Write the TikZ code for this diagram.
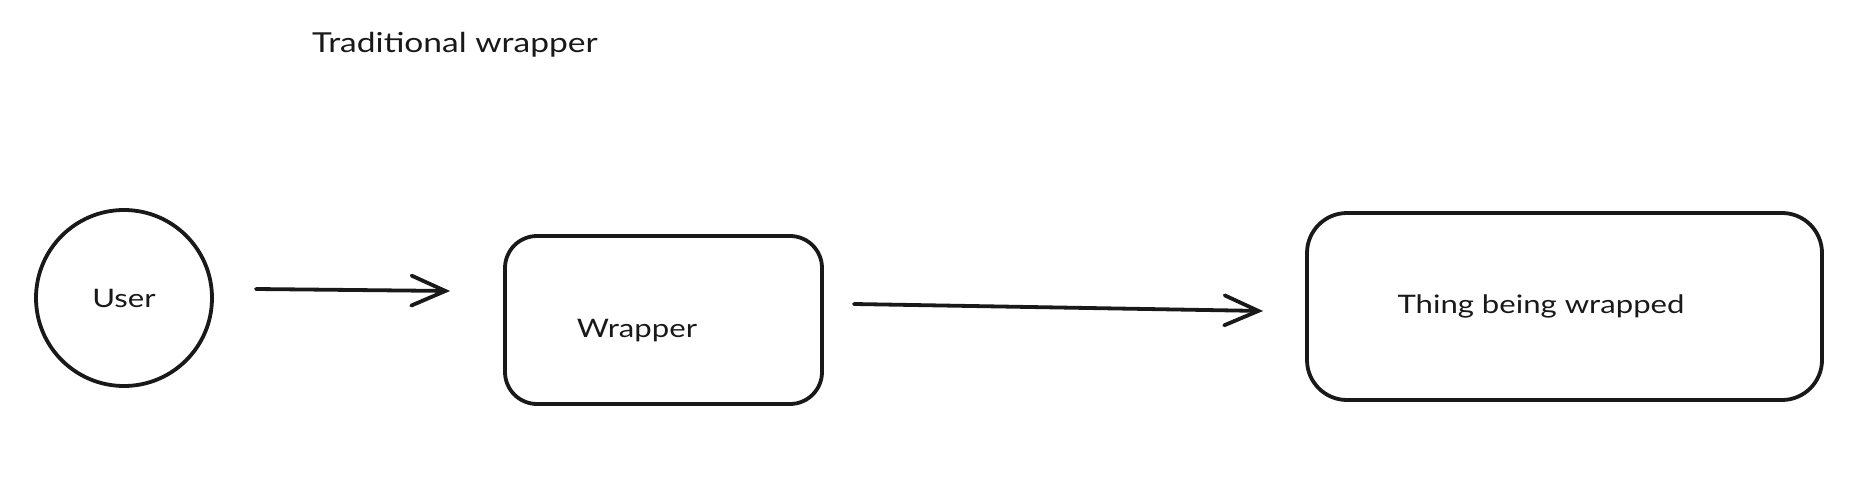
\documentclass[tikz,border=0pt]{standalone}
\usepackage{fontspec}
\setmainfont[FakeStretch=1.22]{Lato}
\usetikzlibrary{arrows.meta}
\tikzset{
  stroke/.style={draw=black!90, line width=3.8pt},
  shapebox/.style={stroke, rectangle, rounded corners=32pt, inner sep=0pt},
  lbl/.style={font=\fontsize{25.5}{30}\selectfont, text=black!90, inner sep=0pt},
  arr/.style={draw=black!90, line width=3.8pt, line cap=round,
    -{Straight Barb[length=34pt,width=30pt,line cap=round]}},
}
\begin{document}
\begin{tikzpicture}[x=1pt,y=-1pt]
\useasboundingbox (0,0) rectangle (1868,492);
\node[lbl, font=\fontsize{27.5}{32}\selectfont] (title) at (455,45) {Traditional wrapper};
\node[stroke, circle, minimum size=176pt, inner sep=0pt, lbl] (user) at (124,298) {User};
\node[shapebox, minimum width=317pt, minimum height=168pt] (wrapper) at (663.5,320) {};
\node[lbl] (wrapperlabel) at (637,331) {Wrapper};
\node[shapebox, rounded corners=40pt, minimum width=515pt, minimum height=187pt] (thing) at (1564.5,306.5) {};
\node[lbl] (thinglabel) at (1541,306) {Thing being wrapped};
\draw[arr] ([shift={(42,-9)}]user.east) -- ([shift={(-53,-29)}]wrapper.west);
\draw[arr] ([shift={(30,-16)}]wrapper.east) -- ([shift={(-42,4.5)}]thing.west);
\end{tikzpicture}
\end{document}
